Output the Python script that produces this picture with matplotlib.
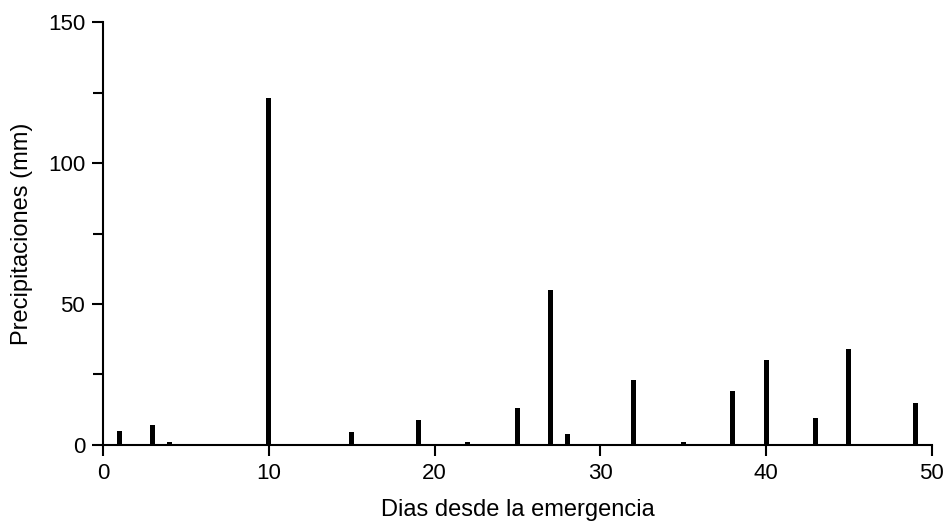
import matplotlib
matplotlib.use("Agg")
import matplotlib.pyplot as plt
from matplotlib.ticker import MultipleLocator

# Precipitación diaria (mm) por día desde la emergencia
dias = [1, 3, 4, 10, 15, 19, 22, 25, 27, 28, 32, 35, 38, 40, 43, 45, 49]
precip = [4.8, 7.1, 1.0, 123, 4.5, 9, 1.0, 13, 55, 3.9, 23, 1.0, 19, 30, 9.4, 34, 15]

plt.rcParams["font.family"] = ["Liberation Sans", "DejaVu Sans"]

fig = plt.figure(figsize=(9.46, 5.29), dpi=100)
ax = fig.add_axes([0.109, 0.159, 0.876, 0.799])

ax.bar(dias, precip, width=0.3, color="black", zorder=3)

ax.set_xlim(0, 50)
ax.set_ylim(0, 150)
ax.xaxis.set_major_locator(MultipleLocator(10))
ax.yaxis.set_major_locator(MultipleLocator(50))
ax.yaxis.set_minor_locator(MultipleLocator(25))

for s in ["top", "right"]:
    ax.spines[s].set_visible(False)
for s in ["left", "bottom"]:
    ax.spines[s].set_linewidth(1.5)

ax.tick_params(axis="both", which="major", direction="out", length=8, width=1.5, labelsize=16, pad=5)
ax.tick_params(axis="y", which="minor", direction="out", length=7, width=1.5)

ax.set_xlabel("Dias desde la emergencia", fontsize=17, labelpad=11)
ax.set_ylabel("Precipitaciones (mm)", fontsize=17, labelpad=11)

fig.savefig("out.png", dpi=100)
